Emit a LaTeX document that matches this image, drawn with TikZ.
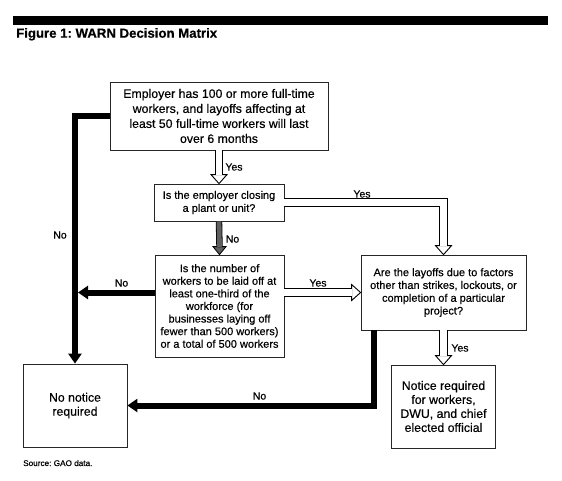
\documentclass[tikz,border=0pt]{standalone}
\usepackage{fontspec}
\setmainfont{Liberation Sans}[FakeBold=0.4]
\usetikzlibrary{arrows.meta,calc}
\definecolor{darkfill}{RGB}{95,95,95}
\frenchspacing
\begin{document}
\begin{tikzpicture}[x=1pt,y=-1pt,
  box/.style={draw=black!85, line width=0.8pt, inner sep=0pt, align=center},
  bigtxt/.style={font=\fontsize{12.3}{15}\selectfont},
  smalltxt/.style={font=\fontsize{11}{13}\selectfont},
  lbl/.style={font=\fontsize{10.5}{12}\selectfont, inner sep=0pt},
  hollowshaft/.style={draw=black, double=white, double distance=6.3pt, line width=1pt, line join=miter},
  grayshaft/.style={draw=black, double=darkfill, double distance=4.8pt, line width=0.8pt},
  blackarrow/.style={line width=6pt, line join=miter, -{Triangle[length=10pt,width=13pt]}},
  pics/hollowtip/.style={code={\filldraw[fill=white, draw=black, line width=0.9pt] (0,0) -- (-9pt,8pt) -- (-9pt,-8pt) -- cycle;}},
  pics/graytip/.style={code={\filldraw[fill=darkfill, draw=black, line width=0.8pt] (0,0) -- (-8pt,6.5pt) -- (-8pt,-6.5pt) -- cycle;}}
]
\fill[white] (0,0) rectangle (562,480);
\useasboundingbox (0,0) rectangle (562,480);

% header
\fill[black] (13,16) rectangle (548,25);
\node[font=\bfseries\fontsize{13.2}{15}\selectfont, anchor=base west, inner sep=0pt] (title) at (16,37.7) {Figure 1: WARN Decision Matrix};

% boxes
\node[box,bigtxt,minimum width=218pt,minimum height=68pt] (b1) at (219,116)
  {Employer has 100 or more full-time\\workers, and layoffs affecting at\\least 50 full-time workers will last\\over 6 months};
\node[box,smalltxt,minimum width=130pt,minimum height=37pt] (b2) at (219,202.5)
  {Is the employer closing\\a plant or unit?};
\node[box,smalltxt,font=\fontsize{11}{12.6}\selectfont,minimum width=129pt,minimum height=102pt] (b3) at (219.5,306)
  {Is the number of\\workers to be laid off at\\least one-third of the\\workforce (for\\businesses laying off\\fewer than 500 workers)\\or a total of 500 workers};
\node[box,smalltxt,font=\fontsize{11}{12.8}\selectfont,minimum width=165pt,minimum height=75pt] (b4) at (443.5,292.5)
  {Are the layoffs due to factors\\other than strikes, lockouts, or\\completion of a particular\\project?};
\node[box,bigtxt,font=\fontsize{12.3}{14}\selectfont,minimum width=104pt,minimum height=83pt] (b5) at (75,405.5)
  {No notice\\required};
\node[box,bigtxt,font=\fontsize{12.3}{14}\selectfont,minimum width=104pt,minimum height=83pt] (b6) at (443.5,406.5)
  {Notice required\\for workers,\\DWU, and chief\\elected official};

% hollow (Yes) arrows
\pic[rotate=-90] at (b2.north) {hollowtip};
\draw[hollowshaft] (b1.south) -- ([yshift=8.5pt]b2.north);
\pic[rotate=-90] at (b4.north) {hollowtip};
\draw[hollowshaft] (b2.east) -| ([yshift=8.5pt]b4.north);
\pic at (b4.west) {hollowtip};
\draw[hollowshaft] (b3.east |- b4.west) -- ([xshift=-8.5pt]b4.west);
\pic[rotate=-90] at (b6.north) {hollowtip};
\draw[hollowshaft] (b4.south) -- ([yshift=8.5pt]b6.north);

% gray (No) arrow
\pic[rotate=-90] at (b3.north) {graytip};
\draw[grayshaft] (b2.south) -- ([yshift=7.5pt]b3.north);

% black (No) arrows
\draw[blackarrow] (b1.west) -| (b5.north);
\coordinate (c3) at ($(b5.north |- b4.west)+(3pt,0)$);
\draw[blackarrow] (b3.west |- b4.west) -- (c3);
\coordinate (c4) at ($(b4.south west)+(13.5pt,0)$);
\draw[blackarrow] (c4) |- (b5.east);

% labels
\node[lbl] (y1) at (234,167) {Yes};
\node[lbl] (y2) at (362,194) {Yes};
\node[lbl] (n1) at (232.5,239) {No};
\node[lbl] (n2) at (60,235) {No};
\node[lbl] (n3) at (121.5,283) {No};
\node[lbl] (y3) at (318,283) {Yes};
\node[lbl] (y4) at (460,348) {Yes};
\node[lbl] (n4) at (259.5,396) {No};

% source
\node[font=\fontsize{8.2}{10}\selectfont, anchor=base west, inner sep=0pt] (src) at (23,466) {Source: GAO data.};
\end{tikzpicture}
\end{document}
